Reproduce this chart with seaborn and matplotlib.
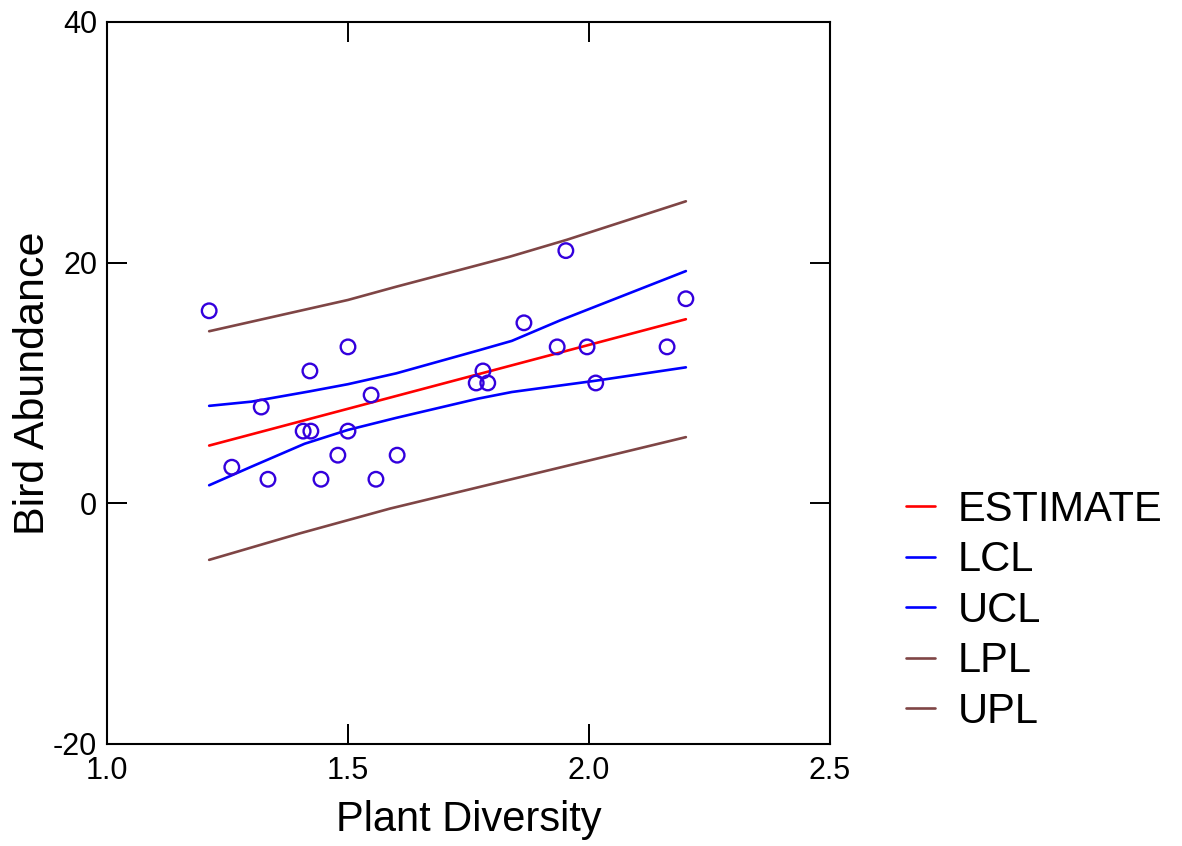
import matplotlib
matplotlib.use("Agg")
import matplotlib.pyplot as plt
import seaborn as sns
import pandas as pd

# Observed data
plant_diversity = [1.212, 1.259, 1.320, 1.334, 1.407, 1.421, 1.423, 1.444, 1.479, 1.500,
                   1.500, 1.548, 1.558, 1.602, 1.766, 1.780, 1.790, 1.865, 1.934, 1.952,
                   1.996, 2.014, 2.162, 2.201]
bird_abundance = [16, 3, 8, 2, 6, 11, 6, 2, 4, 13,
                  6, 9, 2, 4, 10, 11, 10, 15, 13, 21,
                  13, 10, 13, 17]

# Fitted line and confidence / prediction limits
est_x = [1.212, 2.201]
est_y = [4.8, 15.3]

lcl_x = [1.212, 1.30, 1.41, 1.50, 1.60, 1.77, 1.84, 2.016, 2.201]
lcl_y = [1.5, 3.05, 4.95, 6.1, 7.1, 8.7, 9.25, 10.2, 11.3]

ucl_x = [1.212, 1.30, 1.42, 1.50, 1.60, 1.77, 1.84, 1.94, 2.201]
ucl_y = [8.1, 8.45, 9.3, 9.9, 10.8, 12.7, 13.5, 15.2, 19.3]

lpl_x = [1.212, 1.40, 1.587, 1.864, 2.201]
lpl_y = [-4.7, -2.5, -0.44, 2.24, 5.5]

upl_x = [1.212, 1.50, 1.60, 1.774, 1.836, 1.954, 2.201]
upl_y = [14.3, 16.9, 18.0, 19.84, 20.5, 21.9, 25.1]

x_ticks = [1.0, 1.5, 2.0, 2.5]
x_tick_labels = ["1.0", "1.5", "2.0", "2.5"]
y_ticks = [-20, 0, 20, 40]
y_tick_labels = ["-20", "0", "20", "40"]

series_names = ["ESTIMATE", "LCL", "UCL", "LPL", "UPL"]
series_colors = ["#ff0000", "#0000ff", "#0000ff", "#7f4545", "#7f4545"]

curves = pd.concat([
    pd.DataFrame({"x": xs, "y": ys, "series": name})
    for name, xs, ys in zip(series_names,
                            [est_x, lcl_x, ucl_x, lpl_x, upl_x],
                            [est_y, lcl_y, ucl_y, lpl_y, upl_y])
], ignore_index=True)
points = pd.DataFrame({"x": plant_diversity, "y": bird_abundance})

sns.set_style("ticks", {"xtick.direction": "in", "ytick.direction": "in",
                        "axes.edgecolor": "black", "xtick.color": "black",
                        "ytick.color": "black", "text.color": "black",
                        "axes.labelcolor": "black"})
plt.rcParams.update({
    "font.family": ["Liberation Sans", "DejaVu Sans"],
    "xtick.bottom": True, "xtick.top": True,
    "ytick.left": True, "ytick.right": True,
    "xtick.major.size": 14.5, "ytick.major.size": 14.5,
    "xtick.major.width": 1.4, "ytick.major.width": 1.4,
    "xtick.labelsize": 22, "ytick.labelsize": 22,
    "xtick.major.pad": 9, "ytick.major.pad": 7,
    "axes.linewidth": 1.5,
})

fig = plt.figure(figsize=(11.82, 8.46), dpi=100)
ax = fig.add_axes([0.0905, 0.1206, 0.6117, 0.8534])

sns.lineplot(data=curves, x="x", y="y", hue="series", hue_order=series_names,
             palette=dict(zip(series_names, series_colors)), estimator=None,
             sort=True, linewidth=1.9, ax=ax)
sns.scatterplot(data=points, x="x", y="y", ax=ax, legend=False, s=110,
                facecolor="none", edgecolor="#3300dd", linewidth=1.7, zorder=5)

ax.set_xlim(1.0, 2.5)
ax.set_ylim(-20, 40)
ax.set_xticks(x_ticks, x_tick_labels)
ax.set_yticks(y_ticks, y_tick_labels)

ax.set_xlabel("Plant Diversity", fontsize=30, labelpad=10)
ax.set_ylabel("Bird Abundance", fontsize=31, labelpad=0)

handles, labels = ax.get_legend_handles_labels()
ax.get_legend().remove()
fig.legend(handles, labels, loc="center left", bbox_to_anchor=(0.752, 0.278),
           frameon=False, fontsize=30, handlelength=0.7, handletextpad=0.55,
           labelspacing=0.25, borderaxespad=0)

# inward ticks on all four sides
ax.tick_params(which="major", direction="in", length=14.5, width=1.4,
               bottom=True, top=True, left=True, right=True)
# make sure the bottom and left inward ticks are drawn at the tick positions
tick_frac = 0.028
ax.vlines(x_ticks, 0, tick_frac, transform=ax.get_xaxis_transform(),
          colors="black", linewidth=1.4, clip_on=False, zorder=6)
ax.hlines(y_ticks, 0, tick_frac, transform=ax.get_yaxis_transform(),
          colors="black", linewidth=1.4, clip_on=False, zorder=6)

fig.savefig("out.png", dpi=100)
